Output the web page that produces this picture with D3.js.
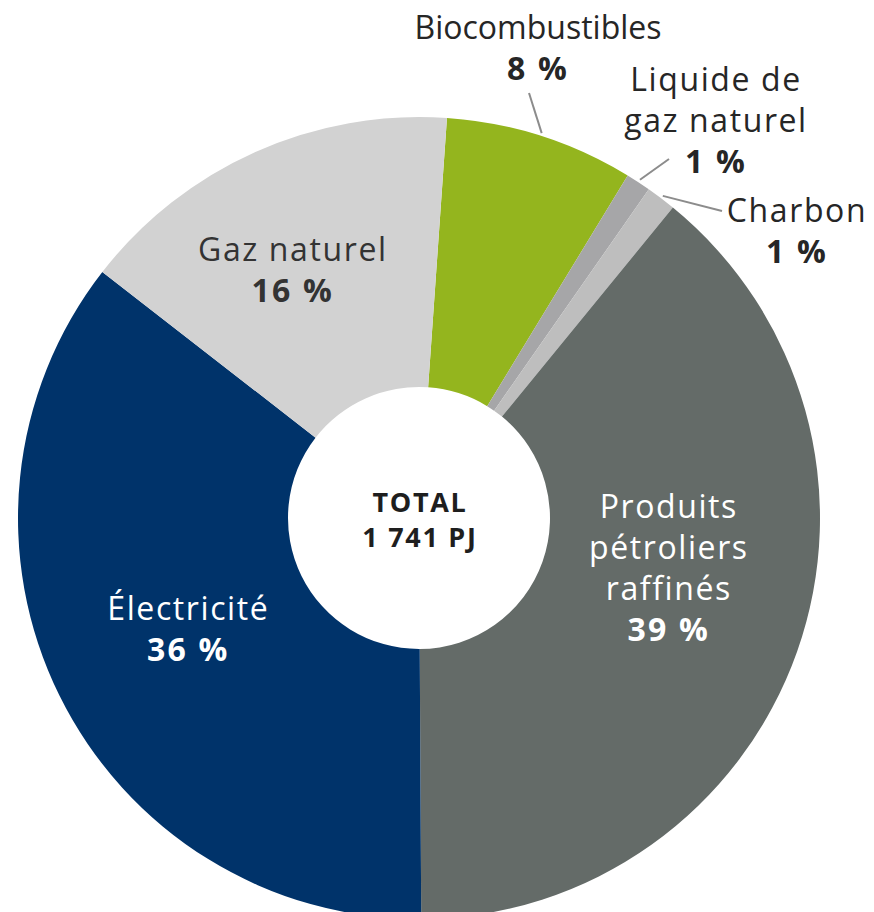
<!DOCTYPE html>
<html>
<head>
<meta charset="utf-8">
<script src="https://cdn.jsdelivr.net/npm/d3@7"></script>
<style>
  html, body { margin: 0; padding: 0; background: #fff; }
  svg text { font-family: "Open Sans", "Noto Sans", sans-serif; }
</style>
</head>
<body>
<svg id="chart" width="874" height="912"></svg>
<script>
// shares of total energy use (clockwise from the top)
var categories = ['Biocombustibles', 'Liquide de gaz naturel', 'Charbon',
                  'Produits pétroliers raffinés', 'Électricité', 'Gaz naturel'];
var shares = [7.6, 1.0, 1.2, 39.0, 35.6, 15.6];
var totalLabel = ['TOTAL', '1 741 PJ'];

var colors = {
  'Biocombustibles': '#94b51e',
  'Liquide de gaz naturel': '#a6a6a8',
  'Charbon': '#bebebe',
  'Produits pétroliers raffinés': '#646b68',
  'Électricité': '#00336a',
  'Gaz naturel': '#d2d2d2'
};

// label placement: inside labels sit on labelArc, outside ones get a leader line
var layout = {
  'Biocombustibles':   { out: true, track: 0, lines: ['Biocombustibles'], tx: 538, ty: 39, lx: 529, ly: 93 },
  'Liquide de gaz naturel': { out: true, lines: ['Liquide de', 'gaz naturel'], tx: 716, ty: 91, lx: 669, ly: 159 },
  'Charbon':           { out: true, lines: ['Charbon'], tx: 797, ty: 222, lx: 722, ly: 211 },
  'Produits pétroliers raffinés': { lines: ['Produits', 'pétroliers', 'raffinés'], dx: 0, dy: -39, fill: '#fff' },
  'Électricité':       { lines: ['Électricité'], dx: 7, dy: -7, fill: '#fff' },
  'Gaz naturel':       { lines: ['Gaz naturel'], dx: -18, dy: -7, fill: '#333' }
};

var cx = 419, cy = 518
  , outerR = 401, innerR = 131
  , lineH = 41
  , fontSize = 32
  , start = 4 * Math.PI / 180;

var svg = d3.select('#chart')
  , g = svg.append('g').attr('transform', 'translate(' + cx + ',' + cy + ')');

var data = categories.map(function(c, i) { return { name: c, value: shares[i] }; });

var pie = d3.pie()
  .sort(null)
  .value(function(d) { return d.value; })
  .startAngle(start)
  .endAngle(start + 2 * Math.PI);

var arc = d3.arc().innerRadius(innerR).outerRadius(outerR)
  , labelArc = d3.arc().innerRadius(265).outerRadius(265)
  , edgeArc = d3.arc().innerRadius(outerR + 3).outerRadius(outerR + 3);

var arcs = pie(data);

g.selectAll('path.slice')
  .data(arcs)
  .enter().append('path')
    .attr('class', 'slice')
    .attr('d', arc)
    .attr('fill', function(d) { return colors[d.data.name]; });

function pct(v) { return Math.round(v) + ' %'; }

arcs.forEach(function(d) {
  var L = layout[d.data.name]
    , lines = L.lines.concat([pct(d.data.value)])
    , track = L.track === undefined ? 1.6 : L.track
    , x, y0;

  if (L.out) {
    var p = edgeArc.centroid(d);
    svg.append('line')
      .attr('x1', cx + p[0]).attr('y1', cy + p[1])
      .attr('x2', L.lx).attr('y2', L.ly)
      .style('stroke', '#8c8c8c')
      .style('stroke-width', 2);
    x = L.tx;
    y0 = L.ty;
  } else {
    var c = labelArc.centroid(d);
    x = cx + c[0] + L.dx;
    // block centred on the nudged centroid; baseline of the first line
    y0 = cy + c[1] + L.dy - (lines.length - 1) * lineH / 2 + fontSize * 0.39;
  }

  lines.forEach(function(s, i) {
    var bold = i === lines.length - 1;
    svg.append('text')
      .attr('text-anchor', 'middle')
      .attr('x', x)
      .attr('y', y0 + i * lineH)
      .style('font-size', fontSize + 'px')
      .style('font-weight', bold ? 700 : 400)
      .style('letter-spacing', (bold ? 2.2 : track) + 'px')
      .style('fill', L.fill || '#262626')
      .text(s);
  });
});

svg.selectAll('text.total')
  .data(totalLabel)
  .enter().append('text')
    .attr('class', 'total')
    .attr('text-anchor', 'middle')
    .attr('x', cx + 1)
    .attr('y', function(d, i) { return cy - 6 + i * 35; })
    .style('font-size', '27px')
    .style('font-weight', 700)
    .style('letter-spacing', '1.7px')
    .style('fill', '#1e1e1e')
    .text(function(d) { return d; });
</script>
</body>
</html>
